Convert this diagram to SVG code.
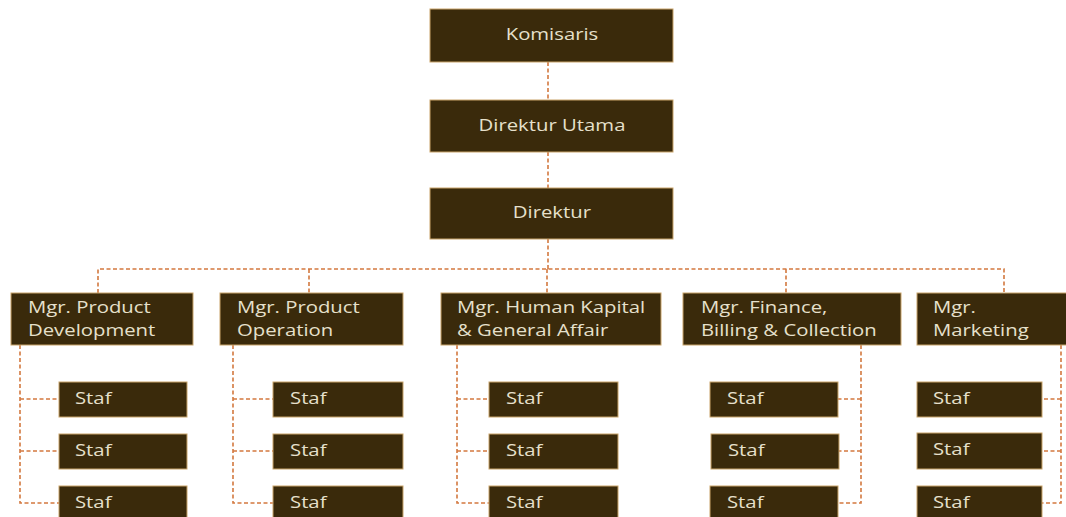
<svg xmlns="http://www.w3.org/2000/svg" width="1066" height="517" viewBox="0 0 1066 517">
<style>
.box{fill:#3a2a0b;stroke:#c9a46a;stroke-width:1}
.t{font-family:"Open Sans","Noto Sans",sans-serif;font-size:16px;fill:#e6e0cb;transform-box:fill-box;transform-origin:0 0;transform:scaleX(1.27)}
.c{text-anchor:middle;transform-origin:50% 0}
.ln{fill:none;stroke:#d3783f;stroke-width:1.6;stroke-dasharray:4 2.5}
</style>
<rect width="1066" height="517" fill="#ffffff"/>
<g id="connectors">
<path class="ln" d="M548 62V100M548 152V188M548 239V269"/>
<path class="ln" d="M98 293V269H1004V293M309 269V293M547 269V293M786 269V293"/>
<path class="ln" d="M20 345V503H59M20 399H59M20 451H59"/>
<path class="ln" d="M233 345V503H273M233 399H273M233 451H273"/>
<path class="ln" d="M457 345V503H489M457 399H489M457 451H489"/>
<path class="ln" d="M861 345V503H838M861 399H838M861 451H838"/>
<path class="ln" d="M1061 345V503H1042M1061 399H1042M1061 451H1042"/>
</g>
<g id="komisaris"><rect class="box" x="430" y="9" width="243" height="53"/><text class="t c" x="552" y="40">Komisaris</text></g>
<g id="direktur-utama"><rect class="box" x="430" y="100" width="243" height="52"/><text class="t c" x="552" y="131">Direktur Utama</text></g>
<g id="direktur"><rect class="box" x="430" y="188" width="243" height="51"/><text class="t c" x="552" y="218">Direktur</text></g>
<g id="mgr-product-development"><rect class="box" x="11" y="293" width="182" height="52"/><text class="t" x="28" y="313">Mgr. Product</text><text class="t" x="28" y="336">Development</text></g>
<g id="mgr-product-operation"><rect class="box" x="220" y="293" width="183" height="52"/><text class="t" x="237" y="313">Mgr. Product</text><text class="t" x="237" y="336">Operation</text></g>
<g id="mgr-human-kapital"><rect class="box" x="441" y="293" width="220" height="52"/><text class="t" x="457" y="313">Mgr. Human Kapital</text><text class="t" x="457" y="336">&amp; General Affair</text></g>
<g id="mgr-finance"><rect class="box" x="683" y="293" width="218" height="52"/><text class="t" x="701" y="313">Mgr. Finance,</text><text class="t" x="701" y="336">Billing &amp; Collection</text></g>
<g id="mgr-marketing"><rect class="box" x="917" y="293" width="152" height="52"/><text class="t" x="933" y="313">Mgr.</text><text class="t" x="933" y="336">Marketing</text></g>
<g id="staf-1-1"><rect class="box" x="59" y="382" width="128" height="35"/><text class="t" x="75" y="404">Staf</text></g>
<g id="staf-1-2"><rect class="box" x="59" y="434" width="128" height="35"/><text class="t" x="75" y="456">Staf</text></g>
<g id="staf-1-3"><rect class="box" x="59" y="486" width="128" height="35"/><text class="t" x="75" y="508">Staf</text></g>
<g id="staf-2-1"><rect class="box" x="273" y="382" width="130" height="35"/><text class="t" x="290" y="404">Staf</text></g>
<g id="staf-2-2"><rect class="box" x="273" y="434" width="130" height="35"/><text class="t" x="290" y="456">Staf</text></g>
<g id="staf-2-3"><rect class="box" x="273" y="486" width="130" height="35"/><text class="t" x="290" y="508">Staf</text></g>
<g id="staf-3-1"><rect class="box" x="489" y="382" width="129" height="35"/><text class="t" x="506" y="404">Staf</text></g>
<g id="staf-3-2"><rect class="box" x="489" y="434" width="129" height="35"/><text class="t" x="506" y="456">Staf</text></g>
<g id="staf-3-3"><rect class="box" x="489" y="486" width="129" height="35"/><text class="t" x="506" y="508">Staf</text></g>
<g id="staf-4-1"><rect class="box" x="710" y="382" width="128" height="35"/><text class="t" x="727" y="404">Staf</text></g>
<g id="staf-4-2"><rect class="box" x="711" y="434" width="128" height="35"/><text class="t" x="728" y="456">Staf</text></g>
<g id="staf-4-3"><rect class="box" x="710" y="486" width="128" height="35"/><text class="t" x="727" y="508">Staf</text></g>
<g id="staf-5-1"><rect class="box" x="917" y="382" width="125" height="35"/><text class="t" x="933" y="404">Staf</text></g>
<g id="staf-5-2"><rect class="box" x="917" y="433" width="125" height="36"/><text class="t" x="933" y="455">Staf</text></g>
<g id="staf-5-3"><rect class="box" x="917" y="486" width="125" height="35"/><text class="t" x="933" y="508">Staf</text></g>
</svg>
